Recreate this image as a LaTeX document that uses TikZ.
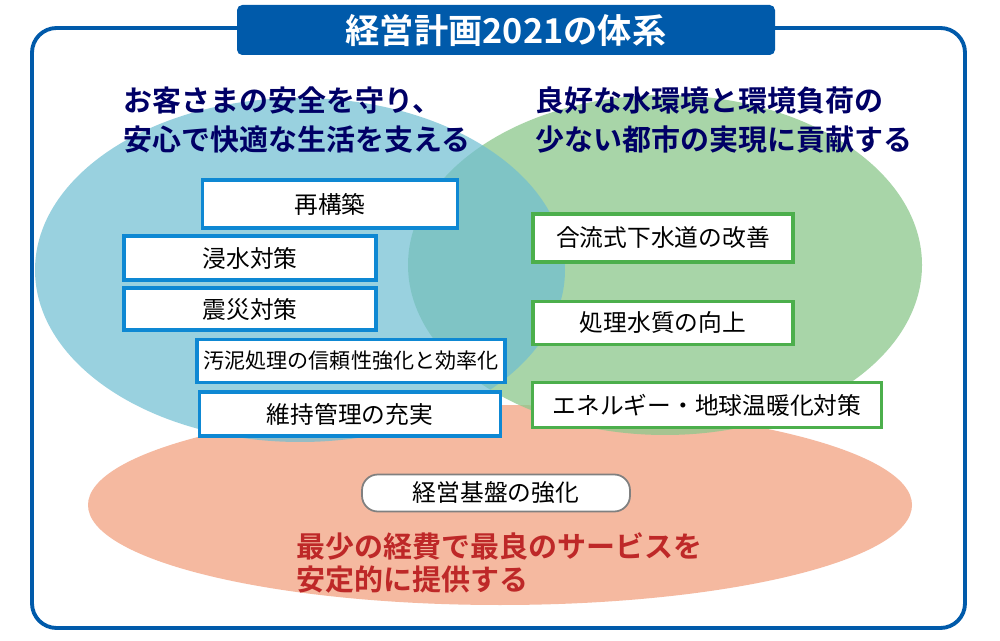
\documentclass[tikz,border=0pt]{standalone}
\usepackage{fontspec}
\newfontfamily\jp{Noto Sans CJK JP}[BoldFont={Noto Sans CJK JP Bold}]
\begin{document}
\begin{tikzpicture}[x=0.02cm,y=-0.02cm,
  lbox/.style={draw=cyan!70!blue,line width=2.2pt,fill=white,font=\jp\fontsize{13.5}{15}\selectfont,inner sep=0pt},
  rbox/.style={draw=green!55!black!70,line width=2.2pt,fill=white,font=\jp\fontsize{13.5}{15}\selectfont,inner sep=0pt},
  head/.style={font=\jp\bfseries\fontsize{16.5}{22.5}\selectfont,text=blue!40!black,align=left,anchor=north west,inner sep=0pt}]
\definecolor{navy}{RGB}{0,90,170}
\definecolor{lb}{RGB}{110,190,210}
\definecolor{lg}{RGB}{140,200,140}
\definecolor{peach}{RGB}{245,185,160}
\definecolor{redt}{RGB}{190,40,40}
\useasboundingbox (0,0) rectangle (1000,641);
\fill[white] (0,0) rectangle (1000,641);
\draw[navy,line width=2.2pt,rounded corners=14pt] (32,28) rectangle (965,628);
\fill[peach] (500,505) ellipse [x radius=412,y radius=100];
\fill[lg,opacity=0.75] (665,265) ellipse [x radius=257,y radius=170];
\fill[lb,opacity=0.7] (300,270) ellipse [x radius=265,y radius=172];
\node[fill=navy,rounded corners=3pt,minimum width=538*0.02cm,minimum height=50*0.02cm,text=white,font=\jp\bfseries\fontsize{19.5}{22}\selectfont] (title) at (506,30) {経営計画2021の体系};
\node[head] (lh) at (123,86) {お客さまの安全を守り、\\安心で快適な生活を支える};
\node[head] (rh) at (535,86) {良好な水環境と環境負荷の\\少ない都市の実現に貢献する};
\node[lbox,minimum width=255*0.02cm,minimum height=48*0.02cm] (b1) at (330,204) {再構築};
\node[lbox,minimum width=252*0.02cm,minimum height=44*0.02cm] (b2) at (250,258) {浸水対策};
\node[lbox,minimum width=252*0.02cm,minimum height=42*0.02cm] (b3) at (250,309) {震災対策};
\node[lbox,minimum width=308*0.02cm,minimum height=43*0.02cm,font=\jp\fontsize{12}{13}\selectfont] (b4) at (351,361) {汚泥処理の信頼性強化と効率化};
\node[lbox,minimum width=301*0.02cm,minimum height=44*0.02cm] (b5) at (350,414) {維持管理の充実};
\node[rbox,minimum width=260*0.02cm,minimum height=48*0.02cm] (g1) at (663,238) {合流式下水道の改善};
\node[rbox,minimum width=260*0.02cm,minimum height=43*0.02cm] (g2) at (663,323) {処理水質の向上};
\node[rbox,minimum width=349*0.02cm,minimum height=45*0.02cm] (g3) at (707,405) {エネルギー・地球温暖化対策};
\node[draw=gray,line width=1pt,fill=white,rounded corners=9pt,minimum width=268*0.02cm,minimum height=37*0.02cm,font=\jp\fontsize{13.5}{15}\selectfont] (base) at (496,493) {経営基盤の強化};
\node[font=\jp\bfseries\fontsize{16.5}{19}\selectfont,text=redt,align=left,anchor=north west,inner sep=0pt] (red) at (296,532) {最少の経費で最良のサービスを\\安定的に提供する};
\end{tikzpicture}
\end{document}
